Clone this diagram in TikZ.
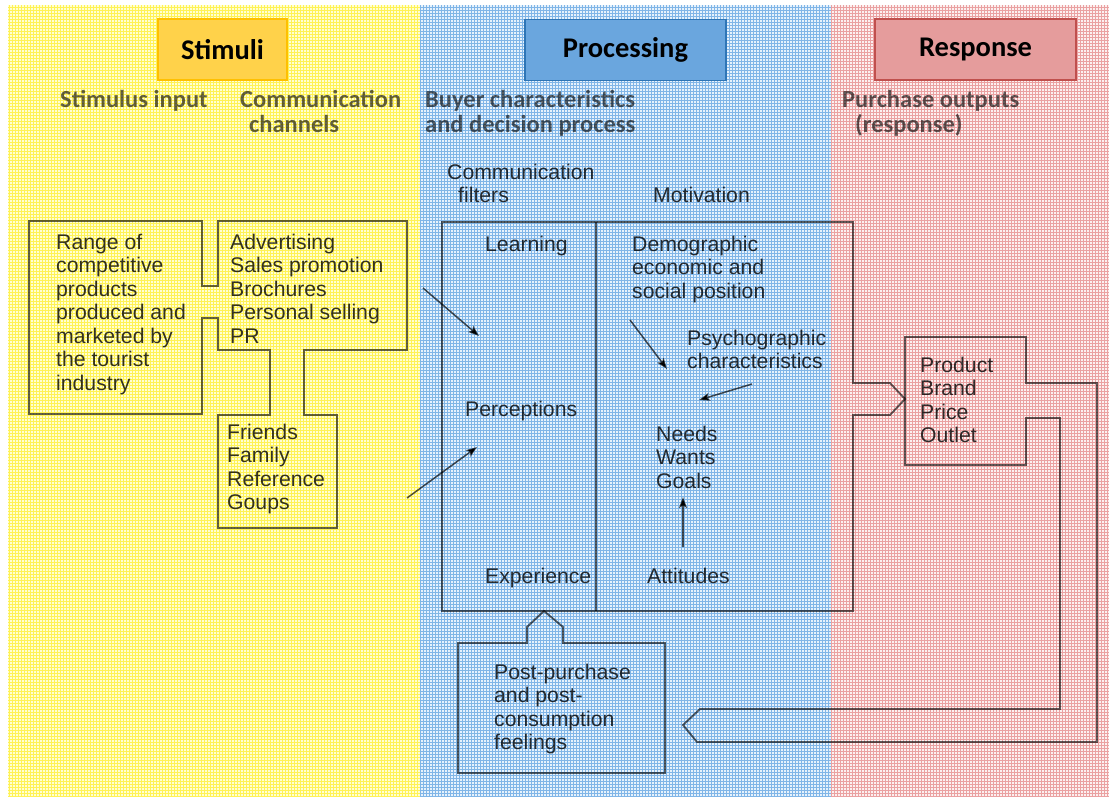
\documentclass[tikz,border=0pt]{standalone}
\usepackage{fontspec}
\setmainfont{Liberation Sans}
\newfontfamily\calfont{Carlito}
\usetikzlibrary{arrows.meta,patterns}

% band colours: a pale ground with a fine grid on top
\definecolor{panelY}{RGB}{255,255,210}
\definecolor{gridY}{RGB}{255,242,85}
\definecolor{panelB}{RGB}{230,242,252}
\definecolor{gridB}{RGB}{128,181,231}
\definecolor{panelR}{RGB}{252,240,240}
\definecolor{gridR}{RGB}{234,161,161}
\definecolor{stimFill}{HTML}{FFD24A}
\definecolor{stimLine}{HTML}{FFC000}
\definecolor{procFill}{HTML}{6AA6DE}
\definecolor{procLine}{HTML}{2E75B6}
\definecolor{respFill}{HTML}{E59C9C}
\definecolor{respLine}{HTML}{C0504D}

\tikzset{
  band/.style 2 args={fill=#1, postaction={pattern=grid, pattern color=#2}},
  outline/.style={draw=black, draw opacity=0.62, line width=1.8pt, line join=miter},
  flow/.style={draw=black, draw opacity=0.68, line width=1.5pt,
    -{Stealth[length=11pt,width=8pt,inset=2.5pt]}},
  body/.style={inner sep=0pt, anchor=base west, text=black, text opacity=0.8,
    font=\fontsize{21.2}{23.5}\selectfont},
  subhead/.style={inner sep=0pt, anchor=base west, text=black, text opacity=0.62,
    font=\calfont\bfseries\fontsize{24.5}{25}\selectfont},
  header/.style={inner sep=0pt, line width=1.5pt, minimum height=61pt,
    font=\calfont\bfseries\fontsize{28.5}{30}\selectfont},
}

\newcommand{\stack}[1]{\begin{tabular}[t]{@{}l@{}}#1\end{tabular}}

\begin{document}
\begin{tikzpicture}[x=1pt, y=-1pt]
\useasboundingbox (0,0) rectangle (1109,796);

% three background bands
\path[band={panelY}{gridY}] (8,5) rectangle (420,796);
\path[band={panelB}{gridB}] (420,5) rectangle (831,796);
\path[band={panelR}{gridR}] (831,5) rectangle (1109,796);

% band headers
\node[header, fill=stimFill, draw=stimLine, minimum width=129pt] (stimuli) at (222.5,49.5) {Stimuli};
\node[header, fill=procFill, draw=procLine, minimum width=201pt] (processing) at (625.5,50) {Processing};
\node[header, fill=respFill, draw=respLine, minimum width=201pt] (response) at (975.5,49.5) {Response};

% column titles
\node[subhead] (stiminput) at (60,107) {Stimulus input};
\node[subhead] (channels) at (240,107) {\stack{Communication\\\hspace{9pt}channels}};
\node[subhead] (buyer) at (425,107) {\stack{Buyer characteristics\\and decision process}};
\node[subhead] (outputs) at (842,107) {\stack{Purchase outputs\\\hspace{13pt}(response)}};

% stimuli: products, channels and reference groups as one outline
\draw[outline] (29,221) -- (202,221) -- (202,286) -- (218,286) -- (218,221)
  -- (407,221) -- (407,350) -- (304,350) -- (304,415) -- (337,415)
  -- (337,528) -- (218,528) -- (218,415) -- (270,415) -- (270,350)
  -- (218,350) -- (218,318) -- (202,318) -- (202,414) -- (29,414) -- cycle;

\node[body] (range) at (56,249) {\stack{Range of\\competitive\\products\\produced and\\marketed by\\the tourist\\industry}};
\node[body] (media) at (230,249) {\stack{Advertising\\Sales promotion\\Brochures\\Personal selling\\PR}};
\node[body] (groups) at (227,439) {\stack{Friends\\Family\\Reference\\Goups}};

% processing: buyer box with its output arrow
\draw[outline] (442,222) -- (853,222) -- (853,383) -- (890,383) -- (905,399)
  -- (890,415) -- (853,415) -- (853,611) -- (442,611) -- cycle;
\draw[outline] (596,222) -- (596,611);

\node[body] (filters) at (447,179) {\stack{Communication\\\hspace{11pt}filters}};
\node[body] (motivation) at (653,202) {Motivation};
\node[body] (learning) at (485,251) {Learning};
\node[body] (perceptions) at (465,416) {Perceptions};
\node[body] (experience) at (485,583) {Experience};
\node[body] (demo) at (632,251) {\stack{Demographic\\economic and\\social position}};
\node[body] (psycho) at (687,345) {\stack{Psychographic\\characteristics}};
\node[body] (needs) at (656,441) {\stack{Needs\\Wants\\Goals}};
\node[body] (attitudes) at (647,583) {Attitudes};

% post-purchase feedback box
\draw[outline] (458,643) -- (527,643) -- (527,627) -- (544,611) -- (563,627)
  -- (563,643) -- (665,643) -- (665,773) -- (458,773) -- cycle;
\node[body] (post) at (494,679) {\stack{Post-purchase\\and post-\\consumption\\feelings}};

% response box with the return loop
\draw[outline] (905,337) -- (1026,337) -- (1026,383) -- (1097,383) -- (1097,742)
  -- (697,742) -- (683,725) -- (700,709) -- (1060,709) -- (1060,418)
  -- (1026,418) -- (1026,465) -- (905,465) -- cycle;
\node[body] (product) at (920,372) {\stack{Product\\Brand\\Price\\Outlet}};

% arrow ends
\coordinate (chanOut) at (423,288);
\coordinate (percInA) at (479,336);
\coordinate (grpOut) at (407,498);
\coordinate (percInB) at (477,447);
\coordinate (demoOut) at (630,320);
\coordinate (psyIn) at (667,369);
\coordinate (psyOut) at (752,384);
\coordinate (needIn) at (699,400);
\coordinate (attOut) at (683,547);
\coordinate (goalIn) at (683,497);

\draw[flow] (chanOut) -- (percInA);
\draw[flow] (grpOut) -- (percInB);
\draw[flow] (demoOut) -- (psyIn);
\draw[flow] (psyOut) -- (needIn);
\draw[flow] (attOut) -- (goalIn);
\end{tikzpicture}
\end{document}
